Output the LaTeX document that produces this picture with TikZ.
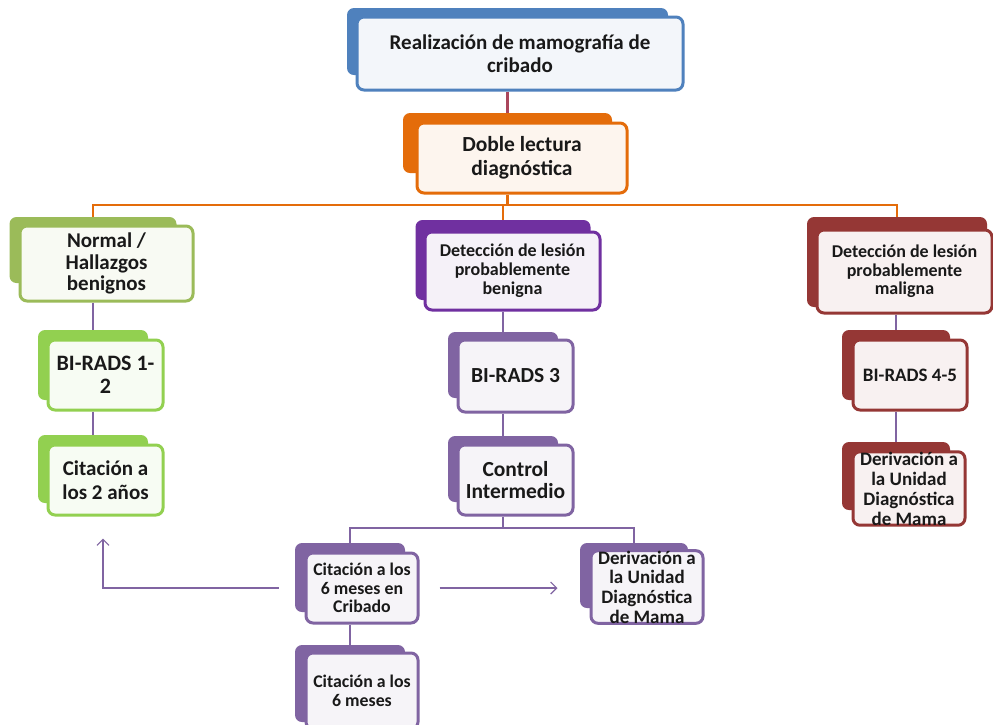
\documentclass[tikz,border=0pt]{standalone}
\usepackage{fontspec}
\setmainfont{Carlito}
\usepackage{tikz}
\usetikzlibrary{arrows.meta,calc,positioning}

%Colours
\definecolor{azul}{RGB}{79,129,189}
\definecolor{naranja}{RGB}{228,108,10}
\definecolor{oliva}{RGB}{155,187,89}
\definecolor{lima}{RGB}{146,208,80}
\definecolor{morado}{RGB}{112,48,160}
\definecolor{lila}{RGB}{128,100,162}
\definecolor{granate}{RGB}{149,55,53}
\definecolor{rojo}{RGB}{170,70,92}

\begin{document}
\begin{tikzpicture}[x=1pt,y=-1pt,
  tab/.style={fill=#1,rounded corners=7pt,inner sep=0pt},
  box/.style={draw=#1,fill=#1!7,line width=3pt,rounded corners=7pt,align=center,inner sep=0pt,text=black!90},
  txt/.style 2 args={font=\bfseries\fontsize{#1}{#2}\selectfont},
  link/.style={draw=lila,line width=2.5pt},
  ramal/.style={draw=naranja,line width=2.5pt},
  flecha/.style={draw=lila,line width=1.2pt,-{Straight Barb[length=6pt,width=12pt]}}]

\useasboundingbox (0,0) rectangle (993,724);
\clip (0,0) rectangle (993,724);
\fill[white] (0,0) rectangle (993,724);

%Top boxes
\node[tab=azul,minimum width=321pt,minimum height=67pt] (mamoT) at (507.5,41.5) {};
\node[box=azul,txt={21}{23},minimum width=326pt,minimum height=73pt] (mamo) at (520,53.5) {Realización de mamografía de\\cribado};
\node[tab=naranja,minimum width=209pt,minimum height=60pt] (lecturaT) at (507.5,143) {};
\node[box=naranja,txt={21.5}{23.5},minimum width=210pt,minimum height=70pt] (lectura) at (522,158) {Doble lectura\\diagnóstica};

%Left column
\node[tab=oliva,minimum width=167pt,minimum height=66pt] (normalT) at (93,250) {};
\node[box=oliva,txt={21}{21.5},minimum width=173pt,minimum height=75pt] (normal) at (106.5,263.5) {Normal /\\Hallazgos\\benignos};
\node[tab=lima,minimum width=110pt,minimum height=70pt] (birAT) at (93,365) {};
\node[box=lima,txt={22}{23},minimum width=115pt,minimum height=70pt] (birA) at (105.5,375) {BI-RADS 1-\\2};
\node[tab=lima,minimum width=110pt,minimum height=68pt] (citAT) at (93,469) {};
\node[box=lima,txt={21}{23.5},minimum width=115pt,minimum height=70pt] (citA) at (105.5,480) {Citación a\\los 2 años};

%Middle column
\node[tab=morado,minimum width=175pt,minimum height=80pt] (benignaT) at (503,260) {};
\node[box=morado,txt={18}{19},minimum width=175pt,minimum height=78pt] (benigna) at (512.5,271) {Detección de lesión\\probablemente\\benigna};
\node[tab=lila,minimum width=110pt,minimum height=66pt] (birBT) at (503,365) {};
\node[box=lila,txt={21.5}{23},minimum width=115pt,minimum height=72pt] (birB) at (515.5,376) {BI-RADS 3};
\node[tab=lila,minimum width=110pt,minimum height=66pt] (controlT) at (503,469) {};
\node[box=lila,txt={21.5}{22.5},minimum width=115pt,minimum height=70pt] (control) at (515.5,480) {Control\\Intermedio};

%Bottom boxes
\node[tab=lila,minimum width=110pt,minimum height=69pt] (citBT) at (350,577.5) {};
\node[box=lila,txt={17.8}{18.5},minimum width=112pt,minimum height=70pt] (citB) at (362,588) {Citación a los\\6 meses en\\Cribado};
\node[tab=lila,minimum width=110pt,minimum height=77pt] (citCT) at (350,683.5) {};
\node[box=lila,txt={17.8}{18.5},minimum width=112pt,minimum height=76pt] (citC) at (362,691) {Citación a los\\6 meses};
\node[tab=lila,minimum width=108pt,minimum height=65pt] (derivBT) at (634,575.5) {};
\node[box=lila,txt={19}{19.7},minimum width=112pt,minimum height=70pt] (derivB) at (647,587) {Derivación a\\la Unidad\\Diagnóstica\\de Mama};

%Right column
\node[tab=granate,minimum width=180pt,minimum height=90pt] (malignaT) at (897,262) {};
\node[box=granate,txt={18}{18.5},minimum width=175pt,minimum height=83pt] (maligna) at (904.5,271.5) {Detección de lesión\\probablemente\\maligna};
\node[tab=granate,minimum width=108pt,minimum height=70pt] (birCT) at (896,365) {};
\node[box=granate,txt={19}{22},minimum width=114pt,minimum height=70pt] (birC) at (910,375) {BI-RADS 4-5};
\node[tab=granate,minimum width=108pt,minimum height=68pt] (derivCT) at (896,476) {};
\node[box=granate,txt={19}{20},minimum width=112pt,minimum height=73pt] (derivC) at (909,488.5) {Derivación a\\la Unidad\\Diagnóstica\\de Mama};

%Connectors
\coordinate (split) at (507.5,205);
\coordinate (splitB) at (503,528);
\draw[draw=rojo,line width=3pt] (mamoT |- mamo.south) -- (lecturaT.north);
\draw[ramal] (lecturaT |- lectura.south) -- (lecturaT |- split);
\draw[ramal] (normalT.north) -- (normalT |- split) -- (malignaT |- split) -- (malignaT.north);
\draw[ramal] (benignaT |- split) -- (benignaT.north);
\draw[link] (normalT |- normal.south) -- (birAT.north);
\draw[link] (birAT |- birA.south) -- (citAT.north);
\draw[link] (birBT |- benigna.south) -- (birBT.north);
\draw[link] (controlT |- birB.south) -- (controlT.north);
\draw[link] (controlT |- control.south) -- (controlT |- splitB);
\draw[link] (citBT.north) -- (citBT |- splitB) -- (derivBT |- splitB) -- (derivBT.north);
\draw[link] (citBT |- citB.south) -- (citCT.north);
\draw[link] (birCT |- maligna.south) -- (birCT.north);
\draw[link] (birCT |- birC.south) -- (derivCT.north);

%Arrows
\coordinate (back) at ([xshift=-2.5pt,yshift=-22pt]citA.south);
\draw[flecha] ([xshift=-26pt]citB.west) -| (back);
\draw[flecha] ([xshift=20pt]citB.east) -- ++(118,0);
\end{tikzpicture}
\end{document}
